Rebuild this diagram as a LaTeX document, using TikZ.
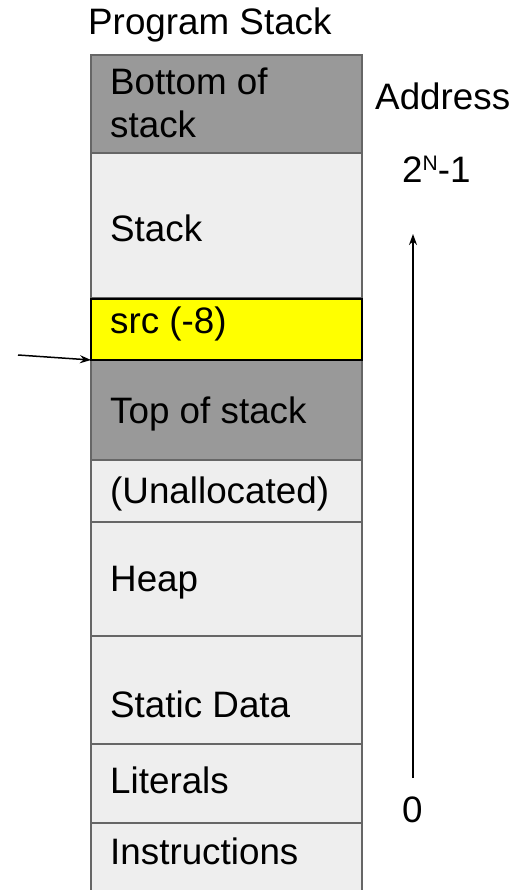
\documentclass[tikz,border=0pt]{standalone}
\usepackage{fontspec}
\setmainfont{Liberation Sans}
\usetikzlibrary{arrows.meta}
\definecolor{darkcell}{HTML}{999999}
\definecolor{lightcell}{HTML}{EEEEEE}
\definecolor{cellborder}{HTML}{666666}
\definecolor{srcyellow}{HTML}{FFFF00}
\tikzset{
  cell/.style={draw=cellborder, line width=2pt, minimum width=271pt, anchor=north west, inner sep=0pt, outer sep=0pt},
  darkbox/.style={cell, fill=darkcell},
  lightbox/.style={cell, fill=lightcell},
  srcbox/.style={cell, draw=black, fill=srcyellow},
  lbl/.style={anchor=base west, inner sep=0pt, font=\fontsize{36.8}{44}\selectfont, align=left},
  arr/.style={-{Stealth[length=11pt,width=8pt]}, line width=1.5pt, black}
}
\begin{document}
\begin{tikzpicture}[x=1pt,y=-1pt]
\useasboundingbox (0,0) rectangle (516,890);
\clip (0,0) rectangle (516,890);
\fill[white] (0,0) rectangle (516,890);
% boxes
\node[darkbox, minimum height=98pt] (bottom) at (91,55) {};
\node[lightbox, minimum height=145pt] (stack) at (91,153) {};
\node[darkbox, minimum height=100pt] (top) at (91,360) {};
\node[lightbox, minimum height=62pt] (unalloc) at (91,460) {};
\node[lightbox, minimum height=114pt] (heap) at (91,522) {};
\node[lightbox, minimum height=108pt] (static) at (91,636) {};
\node[lightbox, minimum height=79pt] (literals) at (91,744) {};
\node[lightbox, minimum height=90pt] (instr) at (91,823) {};
\node[srcbox, minimum height=61pt] (src) at (91,299) {};
% labels
\node[lbl] (title) at (88,35) {Program Stack};
\node[lbl] (tbottom1) at (110,95) {Bottom of};
\node[lbl] (tbottom2) at (110,138) {stack};
\node[lbl] (tstack) at (110,242) {Stack};
\node[lbl] (tsrc) at (110,333) {src (-8)};
\node[lbl] (ttop) at (110,423) {Top of stack};
\node[lbl] (tunalloc) at (110,503) {(Unallocated)};
\node[lbl] (theap) at (110,591) {Heap};
\node[lbl] (tstatic) at (110,717) {Static Data};
\node[lbl] (tliterals) at (110,793) {Literals};
\node[lbl] (tinstr) at (110,864) {Instructions};
\node[lbl] (taddr) at (375,110) {Address};
\node[lbl] (thigh) at (402,183) {2\raisebox{12pt}{\fontsize{21}{24}\selectfont N}-1};
\node[lbl] (tzero) at (402,822) {0};
% arrows
\coordinate (addrlow) at (413,778);
\coordinate (addrhigh) at (413,234);
\draw[arr] (addrlow) -- (addrhigh);
\coordinate (ptrstart) at (18,355);
\draw[arr] (ptrstart) -- (src.south west);
\end{tikzpicture}
\end{document}
